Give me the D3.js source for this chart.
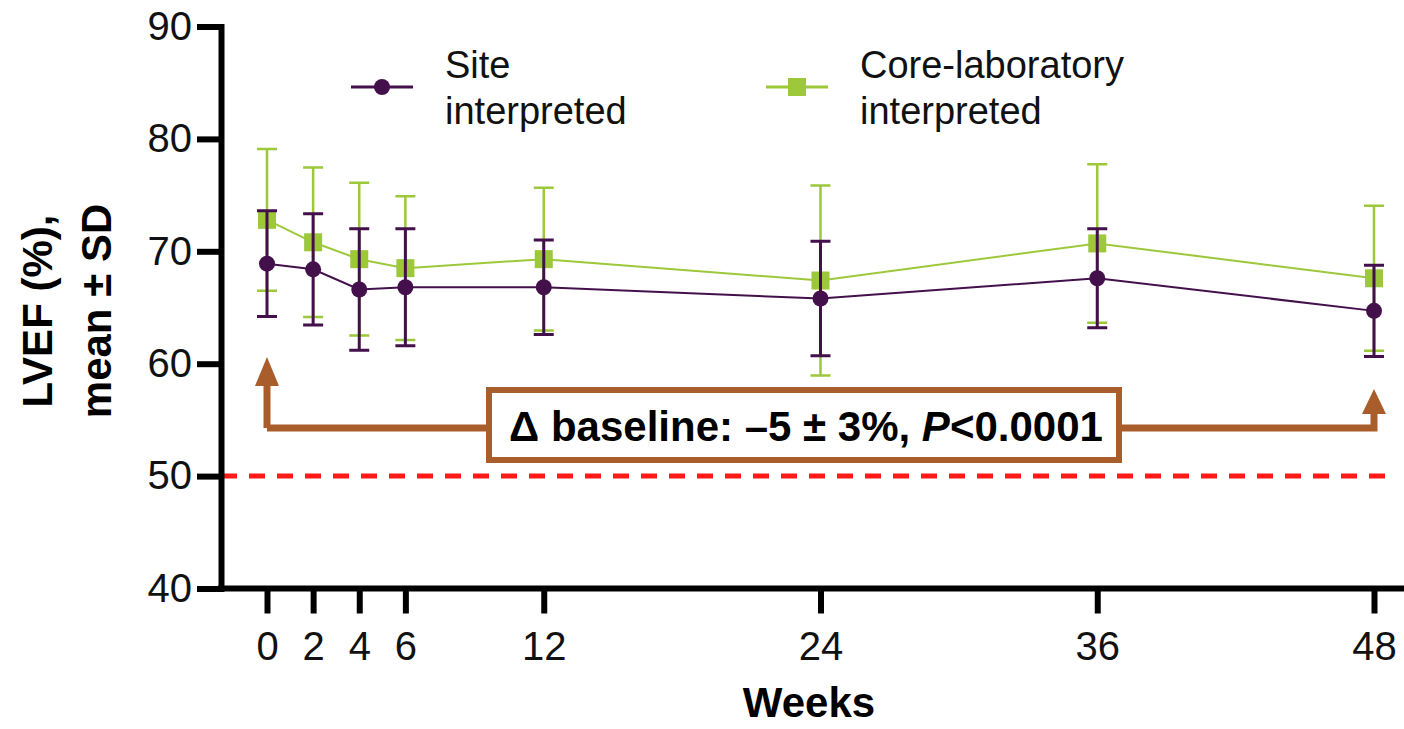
<!DOCTYPE html>
<html lang="en">
<head>
    <meta charset="UTF-8">
    <title>LVEF over time</title>
    <script type="text/javascript" src="https://cdn.jsdelivr.net/npm/d3@7/dist/d3.min.js"></script>
    <style>
        body { margin: 0; background: #fff; }
        text { font-family: "Liberation Sans", Arial, sans-serif; }
    </style>
</head>
<body>

<script>

    // weeks on the x axis
    var weeks = [0, 2, 4, 6, 12, 24, 36, 48];
    // site interpreted, mean and SD
    var siteMean = [68.9, 68.4, 66.6, 66.8, 66.8, 65.8, 67.6, 64.7];
    var siteSD = [4.7, 4.95, 5.4, 5.2, 4.2, 5.1, 4.4, 4.05];
    // core-laboratory interpreted, mean and SD
    var coreMean = [72.8, 70.8, 69.3, 68.5, 69.3, 67.4, 70.7, 67.6];
    var coreSD = [6.3, 6.65, 6.8, 6.4, 6.35, 8.45, 7.05, 6.45];
    // y ticks
    var yTicks = [40, 50, 60, 70, 80, 90];
    var threshold = 50;

    var w = 1404;
    h = 729;

    var purple = "#43104b";
    green = "#9cc83a";
    brown = "#a95d2b";

    var svg = d3.select("body")
        .append("svg")
        .attr("width", w)
        .attr("height", h);

    var x = d3.scaleLinear().domain([0, 48]).range([267, 1374]);
    var y = d3.scaleLinear().domain([40, 90]).range([588.5, 26.5]);

    // 50% threshold, red dashed
    svg.append("line")
        .attr("x1", 221).attr("x2", 1392)
        .attr("y1", y(threshold)).attr("y2", y(threshold))
        .attr("stroke", "#ff1a1a")
        .attr("stroke-width", 5)
        .attr("stroke-dasharray", "16 12");

    //y axis
    var yAxis = svg.append("g")
        .attr("transform", "translate(221,0)")
        .call(d3.axisLeft(y).tickValues(yTicks).tickSize(24).tickSizeOuter(0).tickPadding(5));
    yAxis.select(".domain").attr("stroke-width", 6).attr("stroke-linecap", "square");
    yAxis.selectAll(".tick line").attr("stroke-width", 6);
    yAxis.selectAll(".tick text")
        .attr("font-size", "40px")
        .attr("font-family", "Liberation Sans, Arial, sans-serif")
        .attr("fill", "#111");

    //x axis
    var xAxis = svg.append("g")
        .attr("transform", "translate(0," + y(40) + ")")
        .call(d3.axisBottom(x).tickValues(weeks).tickSize(25).tickPadding(18));
    xAxis.select(".domain").remove();
    xAxis.selectAll(".tick line").attr("stroke-width", 6);
    xAxis.selectAll(".tick text")
        .attr("font-size", "40px")
        .attr("font-family", "Liberation Sans, Arial, sans-serif")
        .attr("fill", "#111");
    xAxis.append("line")
        .attr("x1", 218).attr("x2", w)
        .attr("y1", 0).attr("y2", 0)
        .attr("stroke", "#000")
        .attr("stroke-width", 6);

    // axis titles
    var yTitle = svg.append("text")
        .attr("transform", "translate(0,311) rotate(-90)")
        .attr("text-anchor", "middle")
        .attr("font-weight", "bold")
        .attr("font-size", "42px");
    yTitle.append("tspan").attr("x", 0).attr("y", 52).text("LVEF (%),");
    yTitle.append("tspan").attr("x", 0).attr("y", 111).text("mean \u00b1 SD");

    svg.append("text")
        .attr("x", 809).attr("y", 717)
        .attr("text-anchor", "middle")
        .attr("font-weight", "bold")
        .attr("font-size", "42px")
        .text("Weeks");

    // annotation: arrows from week 0 and week 48 into the box
    var arrowY = 428;
    svg.append("path")
        .attr("d", "M" + x(0) + "," + arrowY + "V382 M" + x(0) + "," + arrowY + "H489")
        .attr("fill", "none").attr("stroke", brown).attr("stroke-width", 7);
    svg.append("path")
        .attr("d", "M1119," + arrowY + "H" + x(48) + "V410")
        .attr("fill", "none").attr("stroke", brown).attr("stroke-width", 7);
    svg.append("path")
        .attr("d", "M" + (x(0) - 12) + ",386 L" + x(0) + ",357 L" + (x(0) + 12) + ",386Z")
        .attr("fill", brown);
    svg.append("path")
        .attr("d", "M" + (x(48) - 12) + ",414 L" + x(48) + ",389 L" + (x(48) + 12) + ",414Z")
        .attr("fill", brown);

    svg.append("rect")
        .attr("x", 489).attr("y", 390)
        .attr("width", 630).attr("height", 70)
        .attr("fill", "#fff")
        .attr("stroke", brown)
        .attr("stroke-width", 6);

    var note = svg.append("text")
        .attr("x", 806).attr("y", 441)
        .attr("text-anchor", "middle")
        .attr("font-weight", "bold")
        .attr("font-size", "42px");
    note.append("tspan").text("\u0394 baseline: \u20135 \u00b1 3%, ");
    note.append("tspan").attr("font-style", "italic").text("P");
    note.append("tspan").text("<0.0001");

    // series drawing
    function drawSeries(mean, sd, color, lineWidth, barWidth, shape) {
        var g = svg.append("g");
        var pts = weeks.map(function (d, i) {
            return { wk: d, m: mean[i], s: sd[i] };
        });

        g.append("path")
            .datum(pts)
            .attr("fill", "none")
            .attr("stroke", color)
            .attr("stroke-width", lineWidth)
            .attr("d", d3.line()
                .x(function (d) { return x(d.wk); })
                .y(function (d) { return y(d.m); }));

        // error bars with caps
        g.selectAll(".err")
            .data(pts)
            .enter()
            .append("path")
            .attr("fill", "none")
            .attr("stroke", color)
            .attr("stroke-width", barWidth)
            .attr("d", function (d) {
                var cx = x(d.wk), t = y(d.m + d.s), b = y(d.m - d.s);
                return "M" + cx + "," + t + "V" + b +
                    "M" + (cx - 10) + "," + t + "H" + (cx + 10) +
                    "M" + (cx - 10) + "," + b + "H" + (cx + 10);
            });

        if (shape === "circle") {
            g.selectAll("circle")
                .data(pts)
                .enter()
                .append("circle")
                .attr("cx", function (d) { return x(d.wk); })
                .attr("cy", function (d) { return y(d.m); })
                .attr("r", 8)
                .attr("fill", color);
        } else {
            g.selectAll("rect")
                .data(pts)
                .enter()
                .append("rect")
                .attr("x", function (d) { return x(d.wk) - 9; })
                .attr("y", function (d) { return y(d.m) - 9; })
                .attr("width", 18)
                .attr("height", 18)
                .attr("fill", color);
        }
    }

    drawSeries(coreMean, coreSD, green, 2, 2.5, "square");
    drawSeries(siteMean, siteSD, purple, 2, 3, "circle");

    // legend
    var legend = [
        { x: 351, label: ["Site", "interpreted"], color: purple, shape: "circle" },
        { x: 766, label: ["Core-laboratory", "interpreted"], color: green, shape: "square" }
    ];
    var lg = svg.selectAll(".legend")
        .data(legend)
        .enter()
        .append("g")
        .attr("transform", function (d) { return "translate(" + d.x + ",87)"; });
    lg.append("line")
        .attr("x1", 0).attr("x2", 62)
        .attr("stroke", function (d) { return d.color; })
        .attr("stroke-width", 3);
    lg.filter(function (d) { return d.shape === "circle"; })
        .append("circle").attr("cx", 31).attr("r", 8)
        .attr("fill", function (d) { return d.color; });
    lg.filter(function (d) { return d.shape === "square"; })
        .append("rect").attr("x", 22).attr("y", -9).attr("width", 18).attr("height", 18)
        .attr("fill", function (d) { return d.color; });
    var lt = lg.append("text")
        .attr("font-size", "38px")
        .attr("fill", "#111");
    lt.append("tspan").attr("x", 94).attr("y", -9).text(function (d) { return d.label[0]; });
    lt.append("tspan").attr("x", 94).attr("y", 37).text(function (d) { return d.label[1]; });

</script>

</body>
</html>
